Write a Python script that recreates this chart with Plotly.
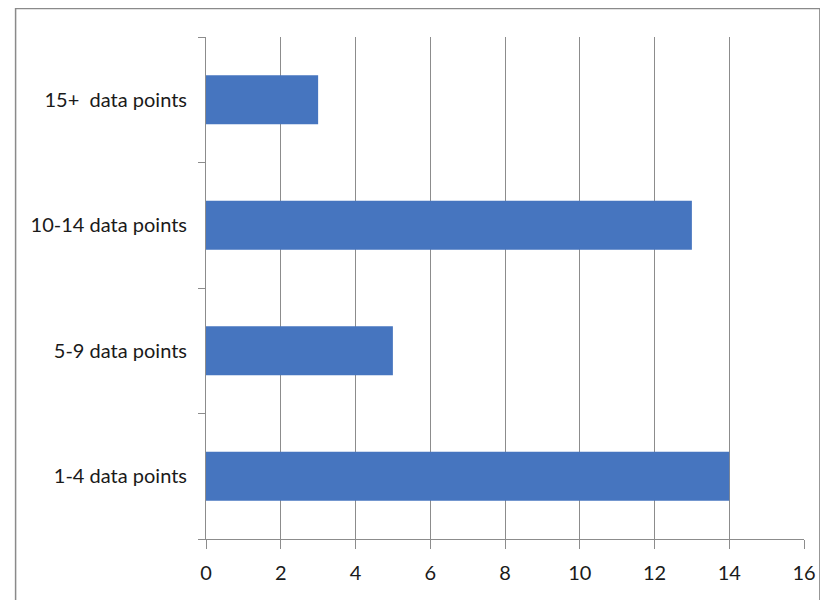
import plotly.graph_objects as go

# data
categories = ["1-4 data points", "5-9 data points", "10-14 data points", "15+  data points"]
counts = [14, 5, 13, 3]
x_ticks = [0, 2, 4, 6, 8, 10, 12, 14, 16]

# the page body adds an 8px margin, so the figure is sized to fill the rest
W, H = 820, 592
L, R, T, B = 198, 19, 29, 61
FONT = "Lato"

fig = go.Figure(go.Bar(
    x=counts,
    y=categories,
    orientation="h",
    width=0.39,
    marker=dict(color="#4675bf", line=dict(width=0)),
))

fig.update_layout(
    width=W, height=H,
    margin=dict(l=L, r=R, t=T, b=B),
    paper_bgcolor="white",
    plot_bgcolor="white",
    showlegend=False,
    font=dict(family=FONT, size=20, color="#1a1a1a"),
    xaxis=dict(
        range=[0, 16],
        tickvals=x_ticks,
        showgrid=True, gridcolor="#8c8c8c", gridwidth=1,
        showline=True, linecolor="#8c8c8c", linewidth=1,
        ticks="outside", ticklen=9, tickcolor="#8c8c8c",
        tickfont=dict(size=20),
        ticklabelstandoff=7,
        zeroline=False,
        fixedrange=True,
    ),
    yaxis=dict(
        categoryorder="array", categoryarray=categories,
        tickson="boundaries",
        showline=True, linecolor="#8c8c8c", linewidth=1,
        ticks="outside", ticklen=7, tickcolor="#8c8c8c",
        showgrid=False,
        tickfont=dict(size=20),
        ticklabelstandoff=14,
        fixedrange=True,
    ),
    shapes=[dict(
        type="rect", xref="paper", yref="paper",
        x0=(6 - L) / (W - L - R), x1=(817 - L) / (W - L - R),
        y0=(H - B - 600) / (H - T - B), y1=(H - B - 0.5) / (H - T - B),
        line=dict(color="#8a8a8a", width=1.5),
    )],
)

fig.write_html("out.html")
